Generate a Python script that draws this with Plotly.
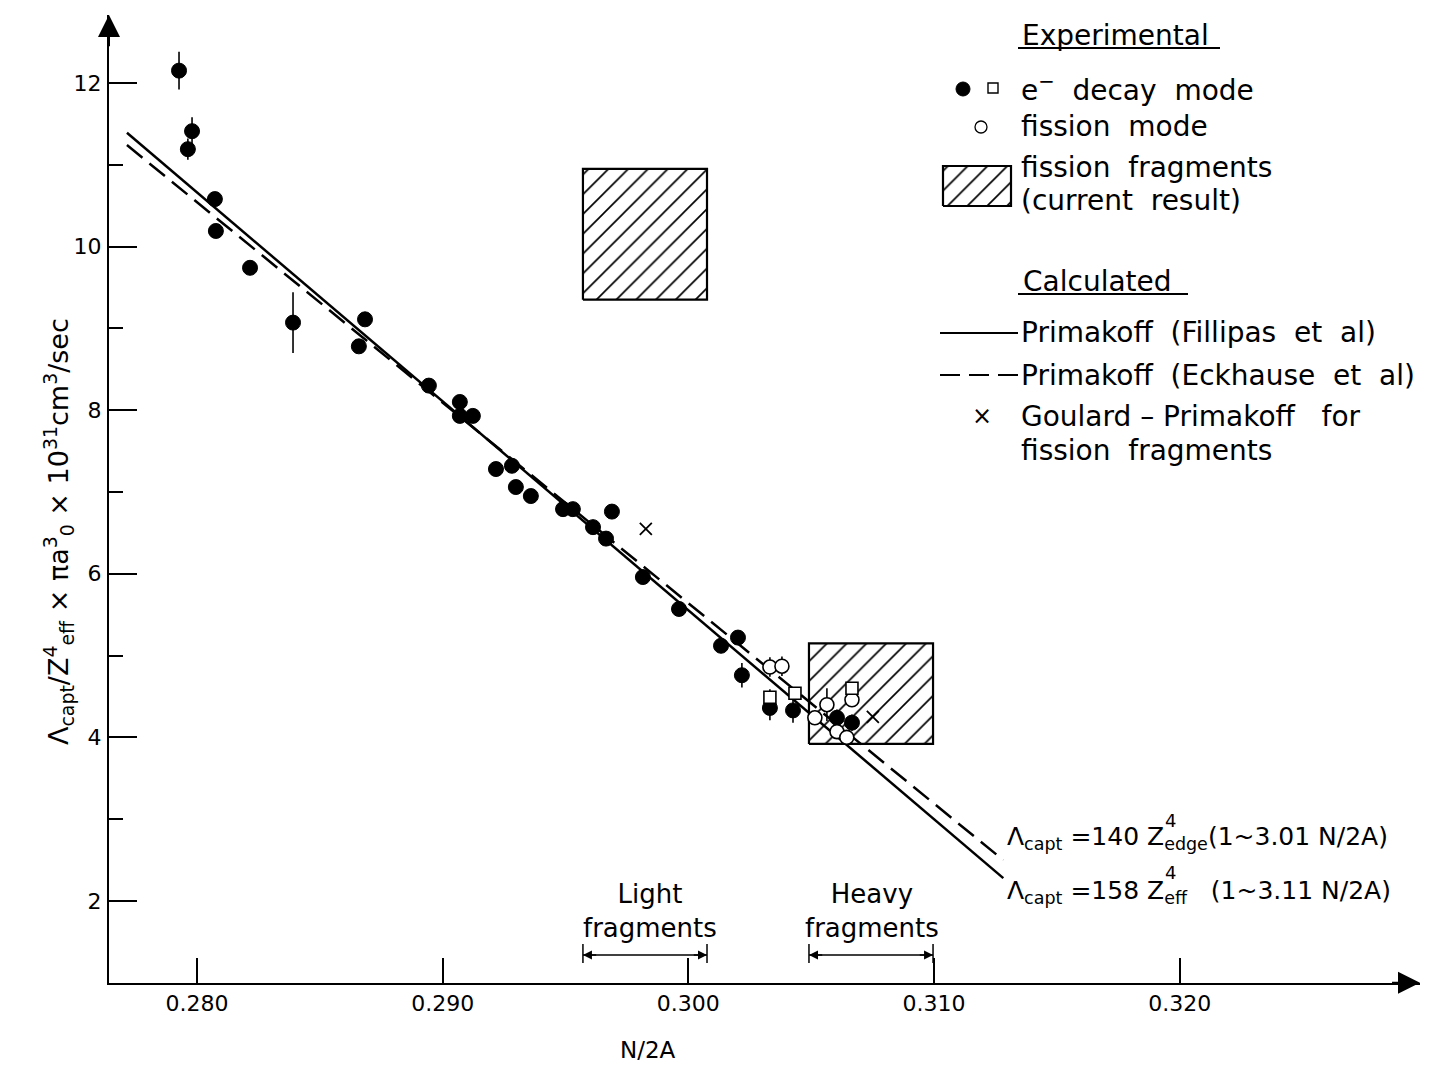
import plotly.graph_objects as go

# ---------------- data ----------------
# e- decay mode, filled circles
edecay_x = [0.27927, 0.27980, 0.27963, 0.28073, 0.28077, 0.28216, 0.28391, 0.28684,
            0.28659, 0.28944, 0.29070, 0.29070, 0.29123, 0.29217, 0.29282, 0.29298,
            0.29359, 0.29490, 0.29530, 0.29612, 0.29689, 0.29665, 0.29815, 0.29962,
            0.30133, 0.30202, 0.30218, 0.30332, 0.30426, 0.30605, 0.30666]
edecay_y = [12.15, 11.41, 11.19, 10.58, 10.19, 9.74, 9.07, 9.11,
            8.78, 8.30, 8.10, 7.93, 7.93, 7.28, 7.32, 7.06,
            6.95, 6.79, 6.79, 6.57, 6.76, 6.43, 5.96, 5.57,
            5.12, 5.22, 4.76, 4.36, 4.33, 4.24, 4.18]
edecay_err = [0.23, 0.17, 0.13, 0.06, 0.06, 0.0, 0.37, 0.0,
              0.0, 0.0, 0.0, 0.0, 0.0, 0.0, 0.0, 0.0,
              0.0, 0.0, 0.0, 0.0, 0.0, 0.0, 0.0, 0.0,
              0.0, 0.0, 0.15, 0.15, 0.15, 0.10, 0.10]
# e- decay mode, open squares
square_x = [0.30332, 0.30434, 0.30666]
square_y = [4.49, 4.54, 4.60]
square_err = [0.10, 0.0, 0.0]
# fission mode, open circles
fission_x = [0.30332, 0.30381, 0.30564, 0.30515, 0.30605, 0.30666, 0.30645]
fission_y = [4.86, 4.87, 4.40, 4.24, 4.07, 4.46, 4.00]
fission_err = [0.12, 0.12, 0.20, 0.0, 0.0, 0.0, 0.0]
# Goulard-Primakoff for fission fragments
goulard_x = [0.29827, 0.30751]
goulard_y = [6.55, 4.25]
# calculated lines (end points)
line_x = [0.27715, 0.31282]
filippas_y = [11.39, 2.28]
eckhause_y = [11.24, 2.50]
# fission fragments (current result) boxes
light_x = [0.29571, 0.30076]
light_y = [9.35, 10.95]
heavy_x = [0.30491, 0.30996]
heavy_y = [3.92, 5.15]

xtick_vals = [0.28, 0.29, 0.30, 0.31, 0.32]
xtick_text = ["0.280", "0.290", "0.300", "0.310", "0.320"]
ytick_vals = [2, 4, 6, 8, 10, 12]
ytick_minor = [3, 5, 7, 9, 11]

# ---------------- layout helpers ----------------
OFF = 8  # page body margin
W, H = 1431 - OFF, 1070 - OFF
ML, MT = 109 - OFF, 15 - OFF
MR = W - (1420 - OFF)
MB = H - (983 - OFF)
XR = [0.27642, 0.32978]
YR = [0.998, 12.83]
PW, PH = W - ML - MR, H - MT - MB
FONT = "DejaVu Sans"
LEG = 28


def px(p):  # page pixel x -> paper
    return (p - OFF - ML) / PW


def py(p):  # page pixel y -> paper
    return (H - MB - (p - OFF)) / PH


def dx(p):  # page pixel x -> data
    return XR[0] + px(p) * (XR[1] - XR[0])


def dy(p):  # page pixel y -> data
    return YR[0] + py(p) * (YR[1] - YR[0])


fig = go.Figure()

hatch = dict(shape="/", size=14, solidity=0.12, fgcolor="black", bgcolor="white", fgopacity=1)


def box(xs, ys):
    fig.add_trace(go.Scatter(
        x=[xs[0], xs[1], xs[1], xs[0], xs[0]],
        y=[ys[0], ys[0], ys[1], ys[1], ys[0]],
        mode="lines", fill="toself", fillcolor="white", fillpattern=hatch,
        line=dict(color="black", width=2.2), hoverinfo="skip", showlegend=False))


box(light_x, light_y)
box(heavy_x, heavy_y)
box([dx(943), dx(1011)], [dy(206), dy(166)])  # legend key

fig.add_trace(go.Scatter(x=line_x, y=filippas_y, mode="lines",
                         line=dict(color="black", width=2.5), showlegend=False))
fig.add_trace(go.Scatter(x=line_x, y=eckhause_y, mode="lines",
                         line=dict(color="black", width=2.5, dash="20px,9px"),
                         showlegend=False))

errstyle = dict(type="data", visible=True, color="black", thickness=1.6, width=0)

fig.add_trace(go.Scatter(x=edecay_x, y=edecay_y, mode="markers",
                         marker=dict(symbol="circle", size=15, color="black",
                                     line=dict(color="black", width=1)),
                         error_y=dict(array=edecay_err, **errstyle), showlegend=False))
fig.add_trace(go.Scatter(x=fission_x, y=fission_y, mode="markers",
                         marker=dict(symbol="circle", size=14, color="white",
                                     line=dict(color="black", width=1.6)),
                         error_y=dict(array=fission_err, **errstyle), showlegend=False))
fig.add_trace(go.Scatter(x=square_x, y=square_y, mode="markers",
                         marker=dict(symbol="square", size=12, color="white",
                                     line=dict(color="black", width=1.6)),
                         error_y=dict(array=square_err, **errstyle), showlegend=False))
fig.add_trace(go.Scatter(x=goulard_x, y=goulard_y, mode="markers",
                         marker=dict(symbol="x-thin", size=12, color="black",
                                     line=dict(color="black", width=1.8)),
                         showlegend=False))

shapes = []
annotations = []


def text(s, x, y, size=LEG, anchor="left", **kw):
    annotations.append(dict(text=s, x=px(x), y=py(y), xref="paper", yref="paper",
                            showarrow=False, xanchor=anchor, yanchor="middle",
                            font=dict(family=FONT, size=size, color="black"), **kw))


def pline(x0, x1, y0, y1, **kw):
    shapes.append(dict(type="line", xref="paper", yref="paper", x0=px(x0), x1=px(x1),
                       y0=py(y0), y1=py(y1), line=dict(color="black", width=2, **kw)))


def pmark(kind, x, y, r, fill, lw):
    shapes.append(dict(type=kind, xref="paper", yref="paper", xsizemode="pixel",
                       ysizemode="pixel", xanchor=px(x), yanchor=py(y), x0=-r, x1=r,
                       y0=-r, y1=r, fillcolor=fill, line=dict(color="black", width=lw)))


# axis arrows
annotations.append(dict(x=XR[1], y=1.0, ax=XR[1] - 0.0012, ay=1.0, xref="x", yref="y",
                        axref="x", ayref="y", text="", showarrow=True, arrowhead=2,
                        arrowsize=2.2, arrowwidth=2, arrowcolor="black"))
annotations.append(dict(x=XR[0], y=YR[1], ax=XR[0], ay=YR[1] - 0.4, xref="x", yref="y",
                        axref="x", ayref="y", text="", showarrow=True, arrowhead=2,
                        arrowsize=2.2, arrowwidth=2, arrowcolor="black"))

# legend
text("Experimental", 1020, 35)
pline(1018, 1220, 48, 48)
pmark("circle", 963, 89, 7, "black", 1)
pmark("rect", 993, 88, 5, "white", 1.4)
text("e<sup>−</sup>\u00a0 decay\u00a0 mode", 1019, 88)
pmark("circle", 981, 127, 6, "white", 1.3)
text("fission\u00a0 mode", 1019, 127)
text("fission\u00a0 fragments", 1019, 167)
text("(current\u00a0 result)", 1019, 200)

text("Calculated", 1021, 281)
pline(1018, 1188, 294, 294)
pline(940, 1018, 333, 333)
text("Primakoff\u00a0 (Fillipas\u00a0 et\u00a0 al)", 1019, 333)
pline(940, 1018, 375, 375, dash="20px,9px")
text("Primakoff\u00a0 (Eckhause\u00a0 et\u00a0 al)", 1019, 375)
text("×", 982, 416, size=24, anchor="center")
text("Goulard – Primakoff\u00a0\u00a0 for", 1019, 416)
text("fission\u00a0 fragments", 1019, 450)

# equations
text("Λ<sub>capt</sub> =140 Z<sub>edge</sub>(1~3.01 N/2A)", 1005, 838, size=25)
text("4", 1170, 820, size=18, anchor="center")
text("Λ<sub>capt</sub> =158 Z<sub>eff</sub>\u00a0\u00a0 (1~3.11 N/2A)", 1005, 892, size=25)
text("4", 1170, 872, size=18, anchor="center")

# fragment ranges
yb = dy(955)
for rng, lab, cx in ((light_x, "Light<br>fragments", 650), (heavy_x, "Heavy<br>fragments", 872)):
    shapes.append(dict(type="line", xref="x", yref="y", x0=rng[0], x1=rng[1], y0=yb, y1=yb,
                       line=dict(color="black", width=1.5)))
    for xe, xo in ((rng[0], rng[0] + 0.0006), (rng[1], rng[1] - 0.0006)):
        shapes.append(dict(type="line", xref="x", yref="y", x0=xe, x1=xe, y0=dy(944),
                           y1=dy(963), line=dict(color="black", width=1.5)))
        annotations.append(dict(x=xe, y=yb, ax=xo, ay=yb, xref="x", yref="y", axref="x",
                                ayref="y", text="", showarrow=True, arrowhead=2,
                                arrowsize=1.2, arrowwidth=1.5, arrowcolor="black"))
    text(lab, cx, 911, size=26, anchor="center")

# axis titles
text("N/2A", 648, 1050, size=23, anchor="center")
annotations.append(dict(text="Λ<sub>capt</sub>/Z<sup>4</sup><sub>eff</sub> × πa<sup>3</sup><sub>0</sub>"
                             " × 10<sup>31</sup>cm<sup>3</sup>/sec",
                        x=px(58), y=py(532), xref="paper", yref="paper", showarrow=False,
                        textangle=-90, xanchor="center", yanchor="middle",
                        font=dict(family=FONT, size=27, color="black")))

fig.update_layout(
    width=W, height=H, margin=dict(l=ML, r=MR, t=MT, b=MB),
    paper_bgcolor="white", plot_bgcolor="white", showlegend=False,
    shapes=shapes, annotations=annotations,
    font=dict(family=FONT, color="black"),
    xaxis=dict(range=XR, showgrid=False, zeroline=False, showline=True, linecolor="black",
               linewidth=2, ticks="inside", ticklen=25, tickwidth=1.6, tickcolor="black",
               tickvals=xtick_vals, ticktext=xtick_text,
               tickfont=dict(family=FONT, size=22, color="black")),
    yaxis=dict(range=YR, showgrid=False, zeroline=False, showline=True, linecolor="black",
               linewidth=2, ticks="inside", ticklen=28, tickwidth=1.6, tickcolor="black",
               tickvals=ytick_vals, ticktext=[str(v) for v in ytick_vals],
               ticklabelstandoff=1,
               tickfont=dict(family=FONT, size=22, color="black"),
               minor=dict(tickvals=ytick_minor, ticks="inside", ticklen=14, tickwidth=1.6,
                          tickcolor="black", showgrid=False)),
)

fig.write_html("out.html")
